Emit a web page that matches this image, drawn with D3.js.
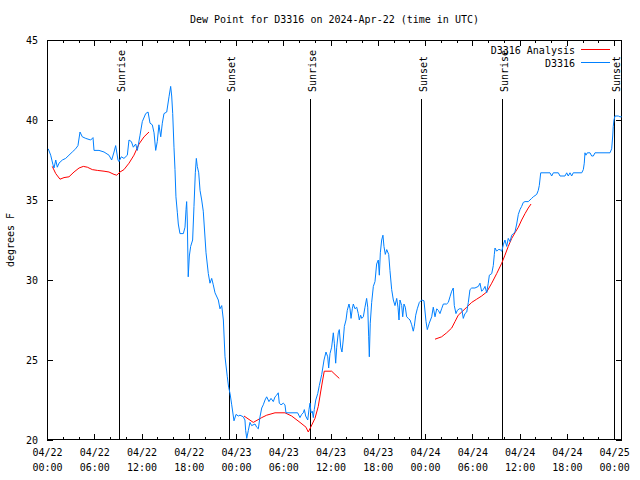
<!DOCTYPE html>
<html>
<head>
<meta charset="utf-8">
<script src="https://cdn.jsdelivr.net/npm/d3@7"></script>
<style>
  html, body { margin: 0; padding: 0; background: #fff; }
  svg { display: block; }
  text { font-family: "DejaVu Sans Mono", "Liberation Mono", monospace; font-size: 10px; fill: #000; }
</style>
</head>
<body>
<svg id="chart" width="640" height="480"></svg>
<script>
// ---- Data (hours since 2024-04-22 00:00 UTC, dew point in °F) ----
const titleText = "Dew Point for D3316 on 2024-Apr-22 (time in UTC)";
const yLabelText = "degrees F";
const seriesNames = ["D3316 Analysis", "D3316"];

const dewHours = [0.16,0.47,0.76,0.89,1.11,1.31,1.52,1.95,2.37,2.79,3.21,3.64,3.93,4.19,4.48,4.92,5.55,5.84,5.97,6.60,
  7.24,7.87,8.21,8.51,8.72,8.85,9.01,9.14,9.43,9.77,10.20,10.41,10.71,10.96,11.26,11.47,11.81,12.10,12.53,12.83,
  13.08,13.37,13.59,13.80,14.00,14.21,14.44,14.64,14.85,15.20,15.49,15.70,15.83,15.96,16.12,16.25,16.37,16.55,16.67,16.88,
  17.31,17.52,17.65,17.73,17.81,17.93,18.07,18.24,18.49,18.66,18.83,18.96,19.08,19.26,19.43,19.64,19.84,20.19,20.48,20.69,
  20.91,21.11,21.33,21.75,21.96,22.18,22.39,22.60,22.89,23.06,23.24,23.45,23.74,24.00,24.29,24.50,24.92,25.13,25.22,25.36,
  25.56,25.77,25.98,26.41,26.62,26.83,27.04,27.26,27.46,27.68,27.89,28.18,28.44,28.73,28.95,29.16,29.36,29.49,29.71,30.00,
  30.21,30.34,31.82,32.12,32.33,32.54,32.67,32.84,33.10,33.26,33.39,33.52,33.68,33.81,33.93,34.12,34.37,34.57,34.88,35.17,
  35.42,35.64,35.76,35.93,36.14,36.35,36.48,36.65,36.78,36.98,37.11,37.29,37.45,37.61,37.75,37.96,38.12,38.34,38.47,38.60,
  38.76,38.89,39.10,39.32,39.52,39.65,39.82,39.96,40.16,40.37,40.58,40.72,40.84,40.92,41.04,41.22,41.43,41.64,41.85,42.06,
  42.19,42.32,42.49,42.65,42.78,42.95,43.13,43.38,43.54,43.76,43.97,44.18,44.40,44.56,44.69,44.81,45.03,45.16,45.32,45.49,
  45.66,45.87,46.09,46.30,46.50,46.63,46.81,47.01,47.27,47.57,47.86,48.12,48.28,48.53,48.84,49.04,49.26,49.48,49.68,49.89,
  50.10,50.32,50.74,50.95,51.16,51.38,51.58,51.71,51.92,52.09,52.34,52.65,52.85,53.06,53.29,53.49,53.70,53.92,54.33,54.76,
  54.97,55.18,55.39,55.61,55.82,56.02,56.16,56.46,56.66,56.79,56.88,57.09,57.29,57.52,57.73,57.93,58.14,58.36,58.56,58.78,
  59.00,59.20,59.41,59.63,59.84,60.05,60.26,60.47,60.69,61.10,61.53,61.74,62.17,62.37,62.50,62.68,63.86,64.07,64.28,64.92,
  65.13,65.76,65.98,66.18,66.40,66.61,66.81,67.89,68.09,68.21,68.30,68.42,68.60,68.94,69.15,69.36,69.57,71.48,71.69,71.82,
  71.89,71.98,72.11,72.53,72.74,72.96];
const dewValues = [38.2,37.8,37.2,37.0,37.5,37.05,37.3,37.5,37.6,37.8,38.0,38.2,38.4,39.25,38.95,38.85,38.75,38.9,38.1,38.1,
  38.0,37.8,37.5,38.0,38.4,38.0,37.5,37.4,37.7,37.6,37.8,38.75,38.65,38.3,38.5,38.1,39.05,39.9,40.4,40.5,
  39.8,39.7,39.2,38.1,38.65,39.7,38.95,39.8,40.4,40.5,41.45,42.1,41.5,40.4,38.3,36.9,35.2,34.2,33.5,32.9,
  32.9,33.3,34.4,34.9,33.75,30.2,31.5,32.1,32.5,34.6,36.7,37.6,37.1,36.7,35.6,35.0,34.3,31.7,30.4,29.8,
  30.1,29.7,29.2,28.75,28.2,28.4,27.5,25.2,23.95,23.3,22.9,22.2,21.2,21.6,21.5,21.55,21.45,21.25,20.6,20.1,
  20.6,21.1,20.9,21.0,20.8,20.7,21.45,22.0,22.2,22.5,22.7,22.4,22.6,22.4,22.7,22.8,22.95,22.3,22.2,22.3,
  22.2,21.7,21.7,21.4,21.6,21.7,21.9,21.5,21.25,21.9,22.3,21.7,21.8,21.4,21.9,22.5,22.9,23.4,24.1,25.0,
  25.5,25.2,24.5,25.4,25.8,26.7,26.05,24.8,25.8,26.7,26.9,25.8,25.5,26.25,27.1,27.5,28.1,28.5,28.2,27.6,
  28.2,28.5,28.2,28.3,27.9,27.5,27.8,27.6,27.7,28.3,28.85,28.3,26.45,25.2,27.3,28.6,29.6,29.9,31.0,31.25,
  30.3,31.7,32.5,32.8,32.1,31.6,31.9,31.6,30.6,29.4,28.75,28.4,28.85,28.3,27.5,28.75,28.4,27.7,28.5,28.3,
  27.7,27.6,27.5,27.2,26.8,27.1,27.8,28.2,28.6,28.75,28.7,27.4,26.9,27.3,27.7,28.3,27.7,28.2,28.1,27.9,
  28.2,28.5,28.5,28.6,28.95,29.3,29.5,28.4,27.9,28.1,28.2,28.2,27.6,27.9,28.0,28.6,29.4,29.5,29.5,29.6,
  29.8,29.3,29.4,29.6,29.2,29.8,30.3,30.4,30.9,31.6,32.0,31.8,31.9,31.9,31.8,32.2,32.5,32.1,32.6,32.4,
  32.8,32.9,33.0,33.5,34.1,34.4,34.6,34.85,34.9,34.9,35.1,35.2,35.35,35.6,35.9,36.7,36.7,36.5,36.7,36.7,
  36.5,36.5,36.7,36.5,36.7,36.5,36.7,36.7,36.9,37.3,37.95,37.8,37.95,37.95,37.75,37.75,37.95,37.95,38.2,39.0,
  39.6,40.0,40.25,40.25,40.2,40.2];

// analysis series: null marks a gap between runs
const analysisHours = [0.67,1.11,1.65,2.16,2.79,3.43,4.07,4.61,5.12,5.75,6.39,7.24,7.87,8.51,8.85,9.27,9.77,10.41,11.04,11.68,12.32,12.95,
  null,
  25.01,26.19,27.26,27.89,28.95,30.21,31.06,32.12,32.88,33.17,33.48,34.02,34.44,34.74,35.00,35.20,36.14,36.56,37.11,
  null,
  49.26,50.10,50.74,51.38,51.80,52.21,52.65,53.29,53.92,54.55,55.18,55.82,56.46,57.09,57.73,58.14,58.56,59.00,59.41,59.84,60.26,60.69,61.10,61.45];
const analysisValues = [37.1,36.65,36.3,36.4,36.45,36.75,37.0,37.1,37.05,36.9,36.85,36.8,36.75,36.6,36.55,36.75,36.9,37.3,37.8,38.5,38.95,39.25,
  null,
  21.5,21.1,21.4,21.55,21.7,21.7,21.5,21.1,20.8,20.5,20.8,21.35,22.1,23.0,23.75,24.3,24.3,24.1,23.85,
  null,
  26.3,26.45,26.7,27.0,27.4,27.8,28.0,28.3,28.6,28.8,29.0,29.25,29.8,30.4,31.05,31.55,32.1,32.6,32.95,33.3,33.75,34.15,34.5,34.75];

const sunHours = [9.18, 23.14, 33.43, 47.52, 57.80, 71.94];
const sunLabels = ["Sunrise", "Sunset", "Sunrise", "Sunset", "Sunrise", "Sunset"];

const xTickHours = [0,6,12,18,24,30,36,42,48,54,60,66,72];
const xTickDates = ["04/22","04/22","04/22","04/22","04/23","04/23","04/23","04/23","04/24","04/24","04/24","04/24","04/25"];
const xTickTimes = ["00:00","06:00","12:00","18:00","00:00","06:00","12:00","18:00","00:00","06:00","12:00","18:00","00:00"];
const xMinorHours = [2,4,8,10,14,16,20,22,26,28,32,34,38,40,44,46,50,52,56,58,62,64,68,70];
const yTicks = [20,25,30,35,40,45];

// ---- Layout ----
const L = 47, R = 622, T = 40, B = 440;
const colorBlue = "#0080ff", colorRed = "#ff0000";

const svg = d3.select("#chart");
const x = d3.scaleLinear().domain([0, 73]).range([L, R]);
const y = d3.scaleLinear().domain([20, 45]).range([B, T]);

// title
svg.append("text").attr("x", (L + R) / 2).attr("y", 23).attr("text-anchor", "middle").text(titleText);
// y label
svg.append("text").attr("transform", `translate(14,${(T + B) / 2}) rotate(-90)`)
  .attr("text-anchor", "middle").text(yLabelText);

// axes
const gx = svg.append("g").attr("transform", `translate(0,${B})`)
  .call(d3.axisBottom(x).tickValues(xTickHours).tickSizeInner(-6).tickSizeOuter(0).tickPadding(9).tickFormat(() => ""));
gx.selectAll(".tick text").each(function(d, i) {
  const t = d3.select(this);
  t.append("tspan").attr("x", 0).attr("dy", "0.71em").text(xTickDates[i]);
  t.append("tspan").attr("x", 0).attr("dy", "15").text(xTickTimes[i]);
});
svg.append("g").attr("transform", `translate(0,${B})`)
  .call(d3.axisBottom(x).tickValues(xMinorHours).tickSizeInner(-3).tickSizeOuter(0).tickFormat(() => ""));
svg.append("g").attr("transform", `translate(0,${T})`)
  .call(d3.axisTop(x).tickValues(xTickHours).tickSizeInner(-6).tickSizeOuter(0).tickFormat(() => ""));
svg.append("g").attr("transform", `translate(0,${T})`)
  .call(d3.axisTop(x).tickValues(xMinorHours).tickSizeInner(-3).tickSizeOuter(0).tickFormat(() => ""));
svg.append("g").attr("transform", `translate(${L},0)`)
  .call(d3.axisLeft(y).tickValues(yTicks).tickSizeInner(-6).tickSizeOuter(0).tickPadding(9).tickFormat(d3.format("d")));
svg.append("g").attr("transform", `translate(${R},0)`)
  .call(d3.axisRight(y).tickValues(yTicks).tickSizeInner(-6).tickSizeOuter(0).tickFormat(() => ""));
svg.selectAll(".domain").remove();
svg.selectAll(".tick line").attr("stroke", "#000").attr("shape-rendering", "crispEdges");
svg.selectAll(".tick text").attr("font-family", "DejaVu Sans Mono").attr("font-size", 10).attr("fill", "#000");

// frame
svg.append("rect").attr("x", L + 0.5).attr("y", T + 0.5).attr("width", R - L - 1).attr("height", B - T - 1)
  .attr("fill", "none").attr("stroke", "#000").attr("shape-rendering", "crispEdges");

// sunrise / sunset lines
const sun = svg.append("g");
sunHours.forEach((h, i) => {
  const sx = Math.round(x(h)) + 0.5;
  sun.append("line").attr("x1", sx).attr("x2", sx).attr("y1", 99).attr("y2", B)
    .attr("stroke", "#000").attr("stroke-width", 1);
  sun.append("text").attr("transform", `translate(${sx + 5},92) rotate(-90)`)
    .attr("text-anchor", "start").text(sunLabels[i]);
});

// series
const analysisData = analysisHours.map((h, i) => ({h, v: analysisValues[i]}));
const dewData = dewHours.map((h, i) => ({h, v: dewValues[i]}));
const line = d3.line().defined(d => d.h !== null && d.v !== null).x(d => x(d.h)).y(d => y(d.v));

svg.append("path").datum(analysisData).attr("d", line)
  .attr("fill", "none").attr("stroke", colorRed).attr("stroke-width", 1);
svg.append("path").datum(dewData).attr("d", line)
  .attr("fill", "none").attr("stroke", colorBlue).attr("stroke-width", 1);

// legend
const legendColors = [colorRed, colorBlue];
seriesNames.forEach((name, i) => {
  const ly = 49.5 + i * 13;
  svg.append("text").attr("x", 575).attr("y", ly + 4).attr("text-anchor", "end").text(name);
  svg.append("line").attr("x1", 581).attr("x2", 610).attr("y1", ly).attr("y2", ly)
    .attr("stroke", legendColors[i]).attr("stroke-width", 1);
});
</script>
</body>
</html>
